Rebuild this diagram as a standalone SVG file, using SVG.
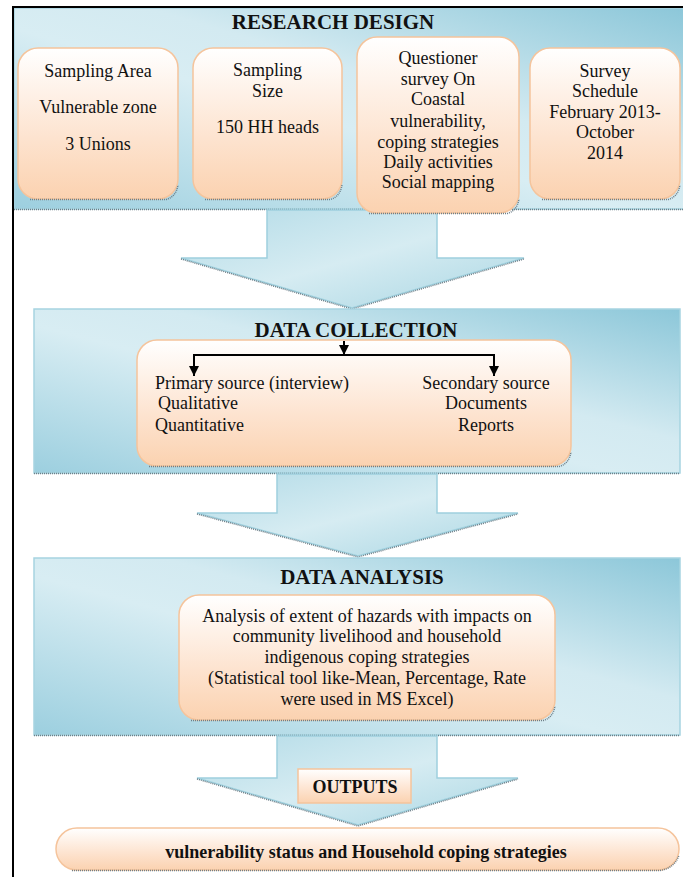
<svg xmlns="http://www.w3.org/2000/svg" width="683" height="877" viewBox="0 0 683 877">
<defs>
<linearGradient id="pg" x1="0" y1="1" x2="1" y2="0">
<stop offset="0" stop-color="#9ccfdf"/>
<stop offset="0.45" stop-color="#d8edf3"/>
<stop offset="0.6" stop-color="#d3eaf1"/>
<stop offset="1" stop-color="#8cc7d9"/>
</linearGradient>
<linearGradient id="ag" x1="0" y1="0" x2="1" y2="1">
<stop offset="0" stop-color="#b3dbe7"/>
<stop offset="0.5" stop-color="#d6ecf2"/>
<stop offset="1" stop-color="#a9d6e3"/>
</linearGradient>
<linearGradient id="og" x1="0" y1="0" x2="0" y2="1">
<stop offset="0" stop-color="#ffffff"/>
<stop offset="0.6" stop-color="#fde3cf"/>
<stop offset="1" stop-color="#fbd2b0"/>
</linearGradient>
<marker id="ah" viewBox="0 0 10 10" refX="10" refY="5" markerWidth="11" markerHeight="10" markerUnits="userSpaceOnUse" orient="auto">
<path d="M0,0 L10,5 L0,10 Z" fill="#000"/>
</marker>
</defs>
<style>
.panel{fill:url(#pg);stroke:#a6d4e1;stroke-width:1.5}
.shadow{stroke:#6e7f88;stroke-width:1.5;stroke-dasharray:1 1;fill:none}
.arrow{fill:url(#ag);stroke:#9fd0de;stroke-width:1.5}
.box{fill:url(#og);stroke:#f5c49c;stroke-width:1.5}
.t{font-family:"Liberation Serif","Times New Roman",serif;font-size:18px;fill:#111;text-anchor:middle}
.tl{font-family:"Liberation Serif","Times New Roman",serif;font-size:18px;fill:#111}
.h{font-family:"Liberation Serif","Times New Roman",serif;font-size:21px;font-weight:bold;fill:#111;text-anchor:middle}
.hb{font-family:"Liberation Serif","Times New Roman",serif;font-size:18px;font-weight:bold;fill:#111;text-anchor:middle}
.conn{stroke:#000;stroke-width:2;fill:none}
</style>
<rect x="0" y="0" width="683" height="877" fill="#fff"/>

<g id="research-design">
<rect class="panel" x="14" y="8" width="670" height="201"/>
<line class="shadow" x1="14" y1="209.5" x2="683" y2="209.5"/>
<text class="h" x="333" y="29">RESEARCH DESIGN</text>
</g>

<g id="arrow1">
<polygon class="arrow" points="267,210 437,210 437,258 524,258 352,308 181,258 267,258"/>
<path class="shadow" d="M181,259 L352,309 L524,259"/>
</g>

<g id="sampling-area">
<rect class="box" x="18" y="48" width="160" height="151" rx="20"/>
<path class="shadow" d="M30,199.5 L166,199.5 Q176,197 178,185"/>
<text class="t" x="98" y="77">Sampling Area</text>
<text class="t" x="98" y="113">Vulnerable zone</text>
<text class="t" x="98" y="150">3 Unions</text>
</g>

<g id="sampling-size">
<rect class="box" x="193" y="48" width="149" height="151" rx="20"/>
<path class="shadow" d="M205,199.5 L330,199.5 Q340,197 342,185"/>
<text class="t" x="267.5" y="76">Sampling</text>
<text class="t" x="267.5" y="97">Size</text>
<text class="t" x="267.5" y="133">150 HH heads</text>
</g>

<g id="questioner">
<rect class="box" x="357" y="37" width="162" height="176" rx="20"/>
<path class="shadow" d="M369,213.5 L507,213.5 Q517,211 519,199"/>
<text class="t" x="438" y="64">Questioner</text>
<text class="t" x="438" y="85">survey On</text>
<text class="t" x="438" y="105">Coastal</text>
<text class="t" x="438" y="127">vulnerability,</text>
<text class="t" x="438" y="148">coping strategies</text>
<text class="t" x="438" y="168">Daily activities</text>
<text class="t" x="438" y="188">Social mapping</text>
</g>

<g id="survey-schedule">
<rect class="box" x="530" y="48" width="150" height="151" rx="20"/>
<path class="shadow" d="M542,199.5 L668,199.5 Q678,197 680,185"/>
<text class="t" x="605" y="77">Survey</text>
<text class="t" x="605" y="97">Schedule</text>
<text class="t" x="605" y="118">February 2013-</text>
<text class="t" x="605" y="138">October</text>
<text class="t" x="605" y="159">2014</text>
</g>

<g id="data-collection">
<rect class="panel" x="34" y="309" width="646" height="164"/>
<line class="shadow" x1="34" y1="473.5" x2="680" y2="473.5"/>
<text class="h" x="356" y="337">DATA COLLECTION</text>
<rect class="box" x="137" y="340" width="434" height="126" rx="20"/>
<path class="shadow" d="M149,466.5 L559,466.5 Q569,464 571,452"/>
<text class="tl" x="155" y="389">Primary source (interview)</text>
<text class="tl" x="158" y="409">Qualitative</text>
<text class="tl" x="155" y="431">Quantitative</text>
<text class="t" x="486" y="389">Secondary source</text>
<text class="t" x="486" y="409">Documents</text>
<text class="t" x="486" y="431">Reports</text>
</g>

<g id="arrow2">
<polygon class="arrow" points="277,474 437,474 437,513 518,513 358,556 197,513 277,513"/>
<path class="shadow" d="M197,514 L358,557 L518,514"/>
</g>

<g id="data-analysis">
<rect class="panel" x="34" y="558" width="646" height="177"/>
<line class="shadow" x1="34" y1="735.5" x2="680" y2="735.5"/>
<text class="h" x="362" y="584">DATA ANALYSIS</text>
<rect class="box" x="179" y="595" width="376" height="125" rx="20"/>
<path class="shadow" d="M191,720.5 L543,720.5 Q553,718 555,706"/>
<text class="t" x="367" y="622">Analysis of extent of hazards with impacts on</text>
<text class="t" x="367" y="642">community livelihood and household</text>
<text class="t" x="367" y="663">indigenous coping strategies</text>
<text class="t" x="367" y="684">(Statistical tool like-Mean, Percentage, Rate</text>
<text class="t" x="367" y="705">were used in MS Excel)</text>
</g>

<g id="arrow3">
<polygon class="arrow" points="277,736 437,736 437,778 518,778 358,825 197,778 277,778"/>
<path class="shadow" d="M197,779 L358,826 L518,779"/>
</g>

<g id="outputs">
<rect class="box" x="298" y="769" width="113" height="34"/>
<text class="hb" x="355" y="793">OUTPUTS</text>
</g>

<g id="result">
<rect class="box" x="56" y="828" width="623" height="42" rx="21"/>
<path class="shadow" d="M72,870.5 L660,870.5 Q675,868 679,855"/>
<text class="hb" x="366" y="858">vulnerability status and Household coping strategies</text>
</g>

<g id="connectors">
<line class="conn" x1="344" y1="341" x2="344" y2="355" marker-end="url(#ah)"/>
<polyline class="conn" points="194,364 194,355 494,355 494,364"/>
<line class="conn" x1="194" y1="360" x2="194" y2="376" marker-end="url(#ah)"/>
<line class="conn" x1="494" y1="360" x2="494" y2="376" marker-end="url(#ah)"/>
</g>

<g id="frame">
<line x1="12" y1="7" x2="683" y2="7" stroke="#000" stroke-width="2"/>
<line x1="13" y1="6" x2="13" y2="877" stroke="#000" stroke-width="2"/>
</g>
</svg>
